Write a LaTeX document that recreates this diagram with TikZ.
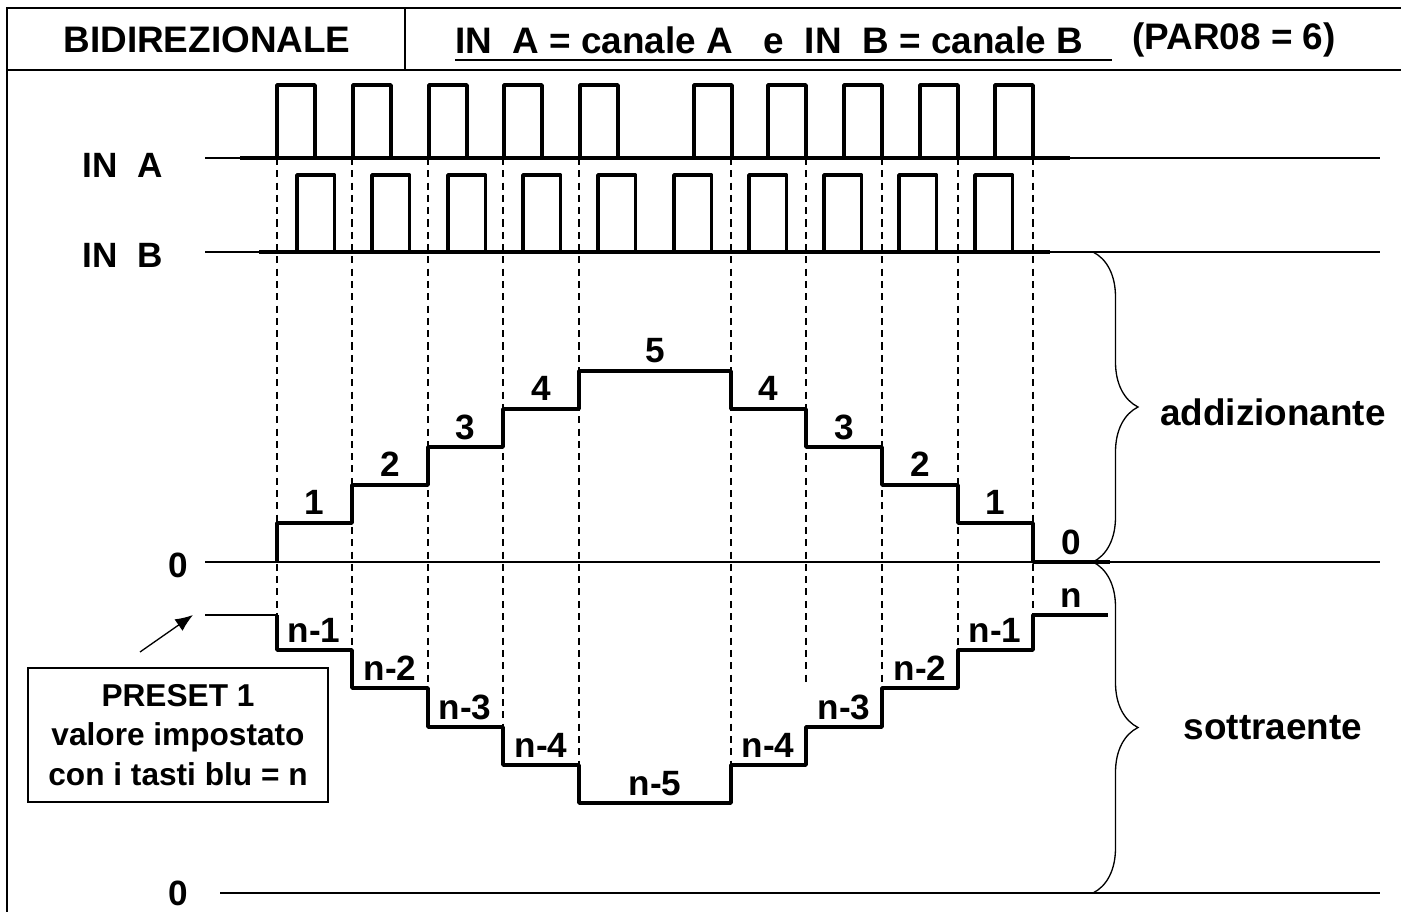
\documentclass[tikz,border=0pt]{standalone}
\usepackage{fontspec}
\setmainfont{Liberation Sans}
\usetikzlibrary{positioning, arrows.meta, decorations.pathreplacing}

\begin{document}
\begin{tikzpicture}[
		x=0.02cm, y=-0.02cm,
		frame/.style={line width=1.4pt},
		thinline/.style={line width=0.75pt},
		signal/.style={line width=2.1pt, line join=round},
		guide/.style={line width=0.75pt, dash pattern=on 4pt off 3pt},
		bracebox/.style={thinline, decorate, decoration={brace, amplitude=0.9cm}},
		head style/.style={font=\fontsize{21}{25}\selectfont\bfseries, inner sep=0pt},
		label style/.style={font=\fontsize{20}{24}\selectfont\bfseries, inner sep=0pt},
		step style/.style={font=\fontsize{20}{24}\selectfont\bfseries, inner sep=0pt, anchor=base}
		]
		
		\useasboundingbox (0,0) rectangle (1401,912);
		
		% Frame and header
		\draw[frame] (1401,8) -- (7,8) -- (7,912);
		\draw[frame] (7,70) -- (1401,70);
		\draw[frame] (405,8) -- (405,70);
		\node[head style] (mode) at (207,40) {BIDIREZIONALE};
		\node[head style, anchor=west] (channels) at (455,40) {IN~~A = canale A~~~e~~IN~~B = canale B~};
		\node[head style, anchor=west] (param) at (1132,40) {(PAR08 = 6)};
		\draw[line width=1.7pt] (455,60) -- (1112,60);
		
		% Axis lines
		\draw[thinline] (205,158) -- (1380,158);
		\draw[thinline] (205,252) -- (1380,252);
		\draw[thinline] (205,562) -- (1380,562);
		\draw[thinline] (205,615) -- (277,615);
		\draw[thinline] (220,893) -- (1380,893);
		
		% Dashed guides
		\foreach \gx/\gy in {277/615,352/650,428/688,503/727,579/765,731/765,806/685,882/688,958/650,1033/615}
		\draw[guide] (\gx,158) -- (\gx,\gy);
		
		% IN A signal
		\draw[signal] (240,158) -- (1070,158);
		\foreach \r in {277,353,429,504,580,694,768,844,920,995}
		\draw[signal] (\r,158) -- (\r,85) -- ({\r+38},85) -- ({\r+38},158);
		
		% IN B signal
		\draw[signal] (259,252) -- (1050,252);
		\foreach \r in {297,372,448,523,598,674,749,824,899,975}
		\draw[signal] (\r,252) -- (\r,175) -- ({\r+37.5},175) -- ({\r+37.5},252);
		
		% Counting up
		\draw[signal] (277,562) -- (277,523) -- (352,523) -- (352,485) -- (428,485) -- (428,447)
		-- (503,447) -- (503,409) -- (579,409) -- (579,371) -- (731,371) -- (731,409)
		-- (806,409) -- (806,447) -- (882,447) -- (882,485) -- (958,485) -- (958,523)
		-- (1033,523) -- (1033,562) -- (1110,562);
		\foreach \lx/\ly/\lt in {314/523/1,390/485/2,465/447/3,541/409/4,655/371/5,768/409/4,844/447/3,920/485/2,995/523/1,1071/562/0}
		\node[step style] at (\lx,{\ly-8}) {\lt};
		
		% Counting down
		\draw[signal] (277,615) -- (277,650) -- (352,650) -- (352,688) -- (428,688) -- (428,727)
		-- (503,727) -- (503,765) -- (579,765) -- (579,803) -- (731,803) -- (731,765)
		-- (806,765) -- (806,727) -- (882,727) -- (882,688) -- (958,688) -- (958,650)
		-- (1033,650) -- (1033,615) -- (1108,615);
		\foreach \lx/\ly/\lt in {314/650/n-1,390/688/n-2,465/727/n-3,541/765/n-4,655/803/n-5,768/765/n-4,844/727/n-3,920/688/n-2,995/650/n-1,1071/615/n}
		\node[step style] at (\lx,{\ly-8}) {\lt};
		
		% Labels
		\node[label style] (ina) at (123,165) {IN~~A};
		\node[label style] (inb) at (123,255) {IN~~B};
		\node[label style] (zeroup) at (178,565) {0};
		\node[label style] (zerolow) at (178,893) {0};
		
		% Braces
		\draw[bracebox] (1093,252) -- (1093,562);
		\draw[bracebox] (1093,562) -- (1093,893);
		\node[label style, font=\fontsize{21}{25}\selectfont\bfseries] (add) at (1273,412) {addizionante};
		\node[label style, font=\fontsize{21}{25}\selectfont\bfseries] (sub) at (1273,728) {sottraente};
		
		% Preset
		\node[draw, line width=1.1pt, minimum width=6cm, minimum height=2.68cm, align=center,
		font=\fontsize{18}{22.7}\selectfont\bfseries] (preset) at (178,735)
		{PRESET 1\\ valore impostato\\ con i tasti blu = n};
		\coordinate (arrowtail) at (140,652);
		\coordinate (arrowtip) at (193,615);
		\draw[thinline, -{Latex[length=10pt, width=8pt]}] (arrowtail) -- (arrowtip);
		
	\end{tikzpicture}
\end{document}
